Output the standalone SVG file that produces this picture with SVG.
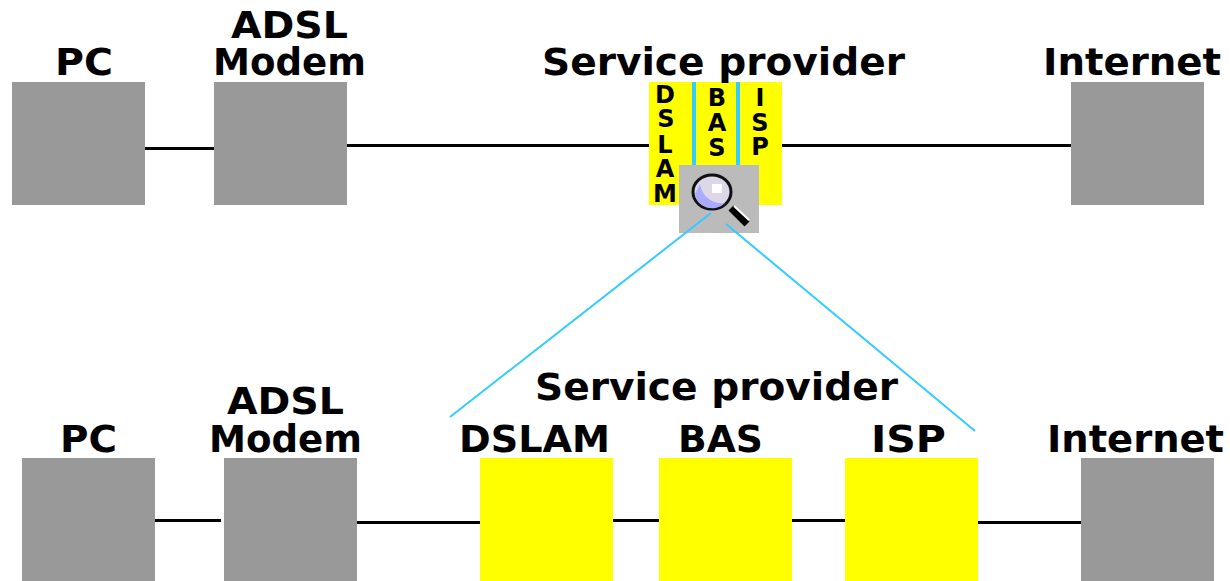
<svg xmlns="http://www.w3.org/2000/svg" width="1230" height="581" viewBox="0 0 1230 581">
<style>
.g{fill:#999}.y{fill:#ff0}
.t{font-family:"DejaVu Sans","Liberation Sans",sans-serif;font-weight:bold;font-size:37px;fill:#000;text-anchor:start}
.s{font-family:"DejaVu Sans","Liberation Sans",sans-serif;font-weight:bold;font-size:24px;fill:#000;text-anchor:middle}
.l{stroke:#000;stroke-width:3;fill:none}
.c{stroke:#33ccff;stroke-width:2;fill:none}
</style>
<rect width="1230" height="581" fill="#fff"/>
<g id="connectors">
<path class="l" d="M145 148.500H214M347 145.500H649M782 145.500H1071"/>
<path class="l" d="M155 520.500H221M357 522.500H480M613 520.500H659M792 520.500H845M977 522.500H1081"/>
</g>
<g id="pc-top"><rect class="g" x="12" y="82" width="133" height="123"/><text class="t" x="55" y="75" textLength="58" lengthAdjust="spacingAndGlyphs">PC</text></g>
<g id="modem-top"><rect class="g" x="214" y="82" width="133" height="123"/><text class="t" x="231" y="38" textLength="117" lengthAdjust="spacingAndGlyphs">ADSL</text><text class="t" x="213" y="75" textLength="153" lengthAdjust="spacingAndGlyphs">Modem</text></g>
<g id="provider-top">
<rect class="y" x="649" y="82" width="133" height="123"/>
<rect x="692" y="82" width="4" height="84" fill="#33ccff"/><rect x="736" y="82" width="4" height="84" fill="#33ccff"/>
<text class="t" x="542" y="75" textLength="363" lengthAdjust="spacingAndGlyphs">Service provider</text>
<text class="s"><tspan x="665" y="103">D</tspan><tspan x="666" y="127">S</tspan><tspan x="665" y="153">L</tspan><tspan x="665" y="177">A</tspan><tspan x="665" y="202">M</tspan></text>
<text class="s"><tspan x="717" y="106">B</tspan><tspan x="717" y="131">A</tspan><tspan x="717" y="156">S</tspan></text>
<text class="s"><tspan x="760" y="106">I</tspan><tspan x="760" y="131">S</tspan><tspan x="760" y="155">P</tspan></text>
</g>
<g id="internet-top"><rect class="g" x="1071" y="82" width="133" height="123"/><text class="t" x="1043" y="75" textLength="178" lengthAdjust="spacingAndGlyphs">Internet</text></g>
<g id="magnifier">
<rect x="679" y="165" width="80" height="68" fill="#bbb"/>
<line x1="731" y1="208" x2="747" y2="224" stroke="#000" stroke-width="7"/>
<line x1="734" y1="206" x2="749" y2="220" stroke="#fff" stroke-width="2"/>
<ellipse cx="712" cy="192" rx="19" ry="17" fill="#dcd8e8" stroke="#111" stroke-width="3"/>
<path d="M695 194A17 15 0 0 0 725 203A22 22 0 0 1 700 184Z" fill="#aaaaff"/>
<rect x="712" y="184" width="10" height="9" fill="#fff"/>
</g>
<g id="zoom-lines"><path class="c" d="M711 213L450 417M726 224L975 431"/></g>
<g id="pc-bottom"><rect class="g" x="22" y="458" width="133" height="123"/><text class="t" x="60" y="452" textLength="57" lengthAdjust="spacingAndGlyphs">PC</text></g>
<g id="modem-bottom"><rect class="g" x="224" y="458" width="133" height="123"/><text class="t" x="227" y="414" textLength="117" lengthAdjust="spacingAndGlyphs">ADSL</text><text class="t" x="209" y="452" textLength="153" lengthAdjust="spacingAndGlyphs">Modem</text></g>
<text class="t" id="provider-bottom" x="535" y="400" textLength="363" lengthAdjust="spacingAndGlyphs">Service provider</text>
<g id="dslam"><rect class="y" x="480" y="458" width="133" height="123"/><text class="t" x="459" y="452" textLength="151" lengthAdjust="spacingAndGlyphs">DSLAM</text></g>
<g id="bas"><rect class="y" x="659" y="458" width="133" height="123"/><text class="t" x="678" y="452" textLength="85" lengthAdjust="spacingAndGlyphs">BAS</text></g>
<g id="isp"><rect class="y" x="845" y="458" width="133" height="123"/><text class="t" x="871" y="452" textLength="75" lengthAdjust="spacingAndGlyphs">ISP</text></g>
<g id="internet-bottom"><rect class="g" x="1081" y="458" width="133" height="123"/><text class="t" x="1047" y="452" textLength="177" lengthAdjust="spacingAndGlyphs">Internet</text></g>
</svg>
